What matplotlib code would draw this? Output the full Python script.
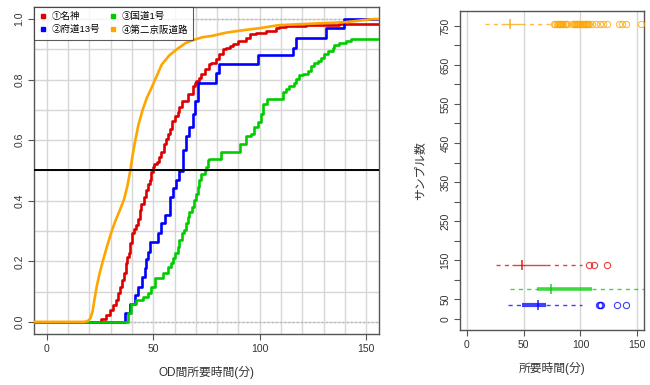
import matplotlib
matplotlib.use("Agg")
import matplotlib.pyplot as plt
from matplotlib.lines import Line2D

plt.rcParams['font.family'] = ['Liberation Sans', 'Noto Sans CJK JP', 'DejaVu Sans']

names = ['①名神', '②府道13号', '③国道1号', '④第二京阪道路']
colors = ['#DD0000', '#0000FF', '#00CC00', '#FFA500']

# ECDF steps: time (min) and cumulative share after the step
meishin_t = [25.6, 28.0, 29.5, 31.1, 32.7, 33.4, 34.5, 35.5, 36.1, 37.0, 37.6, 38.6,
             39.2, 40.2, 40.8, 42.0, 42.8, 43.6, 44.4, 45.5, 46.4, 47.5, 48.3, 49.1,
             49.8, 50.2, 51.7, 52.7, 53.8, 54.9, 56.1, 56.9, 57.7, 58.9, 60.0, 61.6,
             62.3, 63.6, 66.2, 68.6, 69.4, 70.2, 71.7, 72.5, 74.1, 76.4, 77.2, 79.5,
             81.1, 82.7, 84.2, 85.8, 87.3, 89.7, 93.6, 95.2, 98.3, 103.0, 107.7, 109.2,
             112.4, 121.8, 137.4]
meishin_p = [0.009, 0.023, 0.039, 0.056, 0.072, 0.094, 0.116, 0.138, 0.160, 0.193, 0.215, 0.226,
             0.259, 0.292, 0.308, 0.319, 0.341, 0.368, 0.390, 0.412, 0.434, 0.456, 0.467, 0.494,
             0.511, 0.522, 0.527, 0.544, 0.560, 0.588, 0.604, 0.621, 0.637, 0.664, 0.681, 0.692,
             0.708, 0.730, 0.752, 0.780, 0.790, 0.796, 0.807, 0.818, 0.834, 0.851, 0.856, 0.867,
             0.884, 0.900, 0.906, 0.911, 0.917, 0.928, 0.939, 0.950, 0.955, 0.961, 0.971, 0.975,
             0.977, 0.980, 0.985]

fudo_t = [36.6, 38.9, 41.3, 42.8, 44.9, 45.9, 46.7, 47.5, 48.6, 52.2, 53.8, 55.3,
          57.7, 59.2, 60.8, 62.3, 63.9, 65.5, 67.0, 68.6, 69.4, 70.9, 79.5, 80.8,
          99.1, 115.5, 117.1, 131.1, 139.7]
fudo_p = [0.029, 0.059, 0.089, 0.116, 0.149, 0.177, 0.206, 0.231, 0.264, 0.294, 0.325, 0.352,
          0.412, 0.442, 0.469, 0.497, 0.566, 0.615, 0.642, 0.686, 0.730, 0.790, 0.823, 0.851,
          0.880, 0.906, 0.939, 0.969, 1.000]

kokudo_t = [38.1, 39.7, 42.0, 45.1, 47.5, 49.1, 50.6, 54.5, 56.9, 58.4, 59.2, 60.0,
            61.6, 62.3, 63.6, 64.2, 65.5, 66.2, 67.0, 68.3, 68.9, 69.9, 70.9, 71.7,
            72.5, 74.1, 74.9, 75.6, 76.4, 82.0, 90.5, 93.6, 96.0, 97.5, 99.1, 100.7,
            101.4, 103.4, 110.8, 112.4, 113.9, 116.3, 117.1, 118.6, 120.2, 122.5, 124.1, 125.6,
            127.2, 128.8, 130.3, 131.9, 134.2, 135.0, 137.4, 140.5, 142.8]
kokudo_p = [0.029, 0.059, 0.072, 0.083, 0.094, 0.116, 0.144, 0.160, 0.182, 0.193, 0.210, 0.226,
            0.248, 0.270, 0.292, 0.303, 0.325, 0.346, 0.363, 0.379, 0.401, 0.423, 0.445, 0.467,
            0.489, 0.500, 0.511, 0.533, 0.538, 0.560, 0.588, 0.615, 0.621, 0.642, 0.659, 0.686,
            0.719, 0.736, 0.760, 0.769, 0.780, 0.790, 0.802, 0.816, 0.820, 0.829, 0.845, 0.856,
            0.862, 0.873, 0.884, 0.895, 0.906, 0.916, 0.922, 0.928, 0.933]

# 755 samples: reads as a smooth curve
daini_t = [17.8, 19.5, 20.5, 21.5, 22.3, 23.4, 24.8, 26.3, 28.3, 30.5, 32.3, 34.2,
           36.3, 37.9, 39.2, 40.3, 41.3, 43.0, 45.0, 47.0, 49.0, 51.5, 54.0, 57.5,
           61.0, 65.0, 68.5, 73.0, 78.0, 84.0, 92.0, 100.0, 109.0, 125.0, 140.6, 153.0]
daini_p = [0.0, 0.004, 0.012, 0.035, 0.070, 0.115, 0.160, 0.200, 0.250, 0.300, 0.335, 0.367,
           0.405, 0.450, 0.500, 0.550, 0.590, 0.650, 0.700, 0.740, 0.770, 0.810, 0.850, 0.880,
           0.900, 0.920, 0.930, 0.940, 0.945, 0.955, 0.963, 0.970, 0.980, 0.985, 0.990, 1.000]

# box summary (right panel), same order as names
sample_n = [137, 34, 75, 755]
box_q1 = [40, 49, 62, 30]
box_med = [49, 63, 74.5, 38]
box_q3 = [70, 70, 110, 48]
whisk_lo = [26, 36, 38, 16]
whisk_hi = [101, 101, 175, 75]
fliers = [[108, 112, 123],
          [116, 117, 118, 132, 140],
          [],
          [77, 78, 79, 80, 81, 82, 83, 84, 85, 86, 87, 88, 93, 94, 95, 96, 97, 98, 99,
           100, 101, 102, 103, 104, 105, 106, 107, 108, 110, 114, 117, 120, 123,
           134, 137, 140, 153]]

x_lo, x_hi = -6, 156
frame_col = '#555555'
grid_col = '#D6D6D6'
text_col = '#333333'

fig = plt.figure(figsize=(6.5, 3.85), dpi=100)
ax = fig.add_axes([0.0523, 0.1325, 0.5308, 0.8494])
ax2 = fig.add_axes([0.7077, 0.1429, 0.2831, 0.8294])

# ---- left: ECDF ----
for gx in range(0, 160, 10):
    ax.axvline(gx, color=grid_col, lw=1, zorder=0)
for gy in [i / 10 for i in range(11)]:
    ax.axhline(gy, color=grid_col, lw=1, zorder=0)
ax.axhline(0, color='#B3B3B3', lw=1, ls=(0, (1, 2)), zorder=1)
ax.axhline(1, color='#B3B3B3', lw=1, ls=(0, (1, 2)), zorder=1)

step_sets = [(meishin_t, meishin_p), (fudo_t, fudo_p), (kokudo_t, kokudo_p)]
for k, (ts, ps) in enumerate(step_sets):
    xs = [x_lo] + ts + [x_hi]
    ys = [0.0] + ps + [ps[-1]]
    ax.plot(xs, ys, drawstyle='steps-post', color=colors[k], lw=1.9, zorder=2 + k)
ax.plot([x_lo] + daini_t + [x_hi], [0.0] + daini_p + [daini_p[-1]],
        color=colors[3], lw=1.9, zorder=6, solid_joinstyle='round')

ax.axhline(0.5, color='black', lw=1.4, zorder=7)

ax.set_xlim(x_lo, x_hi)
ax.set_ylim(-0.04, 1.04)
ax.set_xticks([0, 50, 100, 150])
ax.set_yticks([0, 0.2, 0.4, 0.6, 0.8, 1.0])
ax.set_yticklabels(['0.0', '0.2', '0.4', '0.6', '0.8', '1.0'], rotation=90, va='center')
ax.set_xlabel('OD間所要時間(分)', fontsize=8.5, color=text_col, labelpad=9)

handles = [Line2D([], [], ls='none', marker='s', ms=3.2, color=c) for c in colors]
leg = ax.legend(handles, names, loc='upper left', bbox_to_anchor=(0, 1), borderaxespad=0,
                ncol=2, fontsize=6.8, frameon=True, fancybox=False, handlelength=0.8,
                handletextpad=0.5, columnspacing=1.0, labelspacing=0.4, borderpad=0.55)
leg.get_frame().set_edgecolor('#333333')
leg.get_frame().set_linewidth(0.8)
leg.set_zorder(10)

# ---- right: box summary vs sample size ----
for gx in [0, 50, 100, 150]:
    ax2.axvline(gx, color=grid_col, lw=1, zorder=0)

box_lw = [1.0, 3.0, 2.6, 1.0]
for k in range(4):
    y = sample_n[k]
    c = colors[k]
    ax2.hlines(y, whisk_lo[k], box_q1[k], color=c, lw=1, ls=(0, (3, 3)), alpha=0.75, zorder=2)
    ax2.hlines(y, box_q3[k], whisk_hi[k], color=c, lw=1, ls=(0, (3, 3)), alpha=0.75, zorder=2)
    ax2.hlines(y, box_q1[k], box_q3[k], color=c, lw=box_lw[k], alpha=0.75, zorder=3)
    ax2.plot([box_med[k]], [y], marker='|', ms=7, mew=1.2, color=c, alpha=0.8, zorder=4)
    if fliers[k]:
        ax2.plot(fliers[k], [y] * len(fliers[k]), ls='none', marker='o', ms=4.5,
                 mfc='none', mec=c, mew=0.8, alpha=0.75, zorder=4)

ax2.set_xlim(x_lo, x_hi)
ax2.set_ylim(-29, 789)
ax2.set_xticks([0, 50, 100, 150])
ax2.set_yticks(list(range(0, 800, 50)))
ylabs = ['' if (v % 100 == 0 and v != 0) else str(v) for v in range(0, 800, 50)]
ax2.set_yticklabels(ylabs, rotation=90, va='center')
ax2.set_xlabel('所要時間(分)', fontsize=8.5, color=text_col, labelpad=9)
ax2.set_ylabel('サンプル数', fontsize=8.5, color=text_col, labelpad=10)

for a in (ax, ax2):
    for s in a.spines.values():
        s.set_color(frame_col)
        s.set_linewidth(1)
    a.tick_params(direction='out', length=4, width=0.8, color=frame_col,
                  labelsize=7.5, labelcolor=text_col, pad=3)

fig.savefig('out.png', dpi=100)
